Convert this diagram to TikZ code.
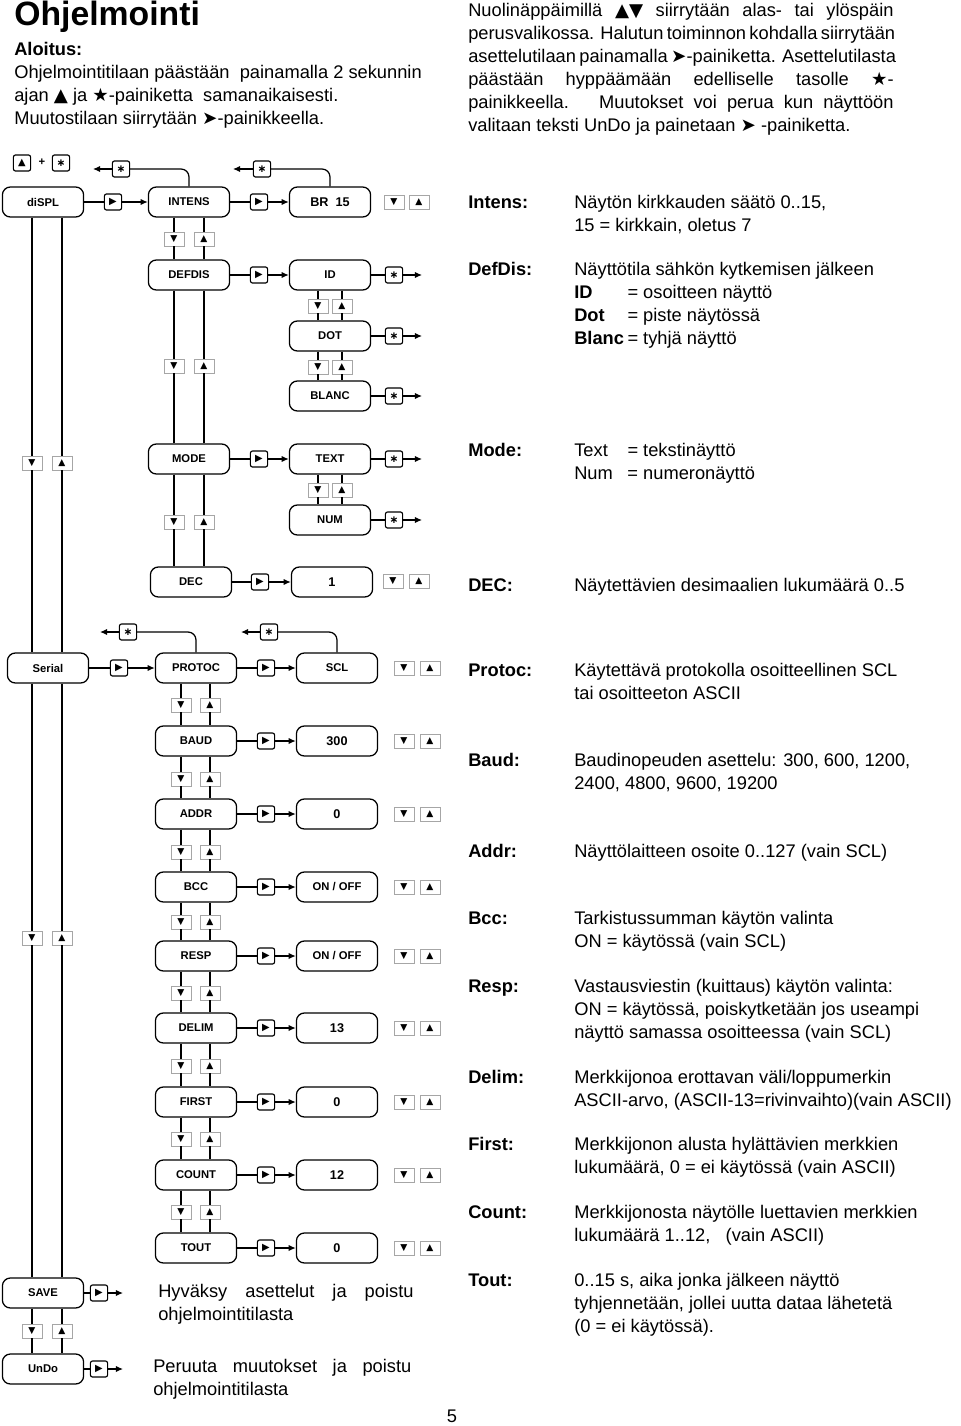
\documentclass[tikz,border=0pt]{standalone}
\usepackage{fontspec}
\setmainfont{Liberation Sans}
\newfontfamily\dejavu{DejaVu Sans}
\usetikzlibrary{arrows.meta}

\tikzset{
  wire/.style={line width=0.9pt},
  go/.style={wire, -{Latex[length=5pt,width=4.5pt]}},
  menu/.style={draw, line width=0.9pt, rounded corners=0.2cm, minimum width=2.03cm, minimum height=0.75cm, inner sep=0pt, font=\bfseries\fontsize{8}{9}\selectfont},
  valbox/.style={menu, font=\bfseries\fontsize{9}{10}\selectfont},
  keybtn/.style={draw, line width=0.8pt, rounded corners=1.5pt, minimum width=0.43cm, minimum height=0.4cm, inner sep=0pt, fill=white, font=\dejavu\fontsize{7}{7}\selectfont},
  keystar/.style={keybtn, font=\dejavu\bfseries\fontsize{7.5}{7.5}\selectfont},
  navbtn/.style={draw=black!35, line width=0.6pt, minimum width=0.5cm, minimum height=0.35cm, inner sep=0pt, fill=white, font=\dejavu\fontsize{6.5}{6.5}\selectfont},
  para/.style={anchor=north west, inner sep=0pt, align=left, font=\fontsize{13}{16.4}\selectfont},
  head/.style={para, font=\bfseries\fontsize{13}{16.4}\selectfont},
}

% ylos/alas-napit kahden valikon valilla
\newcommand{\navlink}[5]{%
  \node[navbtn] (#1-#2-d) at (#3,#5) {▼};
  \node[navbtn] (#1-#2-u) at (#4,#5) {▲};
  \draw[wire] (#1.south -| #1-#2-d) -- (#1-#2-d) -- (#1-#2-d |- #2.north);
  \draw[wire] (#1.south -| #1-#2-u) -- (#1-#2-u) -- (#1-#2-u |- #2.north);
}
\newcommand{\smallval}[1]{{\fontsize{8}{9}\selectfont #1}}
\newcommand{\onoff}{\smallval{ON / OFF}}
\newcommand{\fullline}[1]{\makebox[10.63cm][s]{#1}}

\begin{document}
\begin{tikzpicture}[x=0.025cm, y=-0.025cm]
    \fill[white] (0,0) rectangle (960,1426);
    \useasboundingbox (0,0) rectangle (960,1426);

    % Otsikko ja ohjeet
    \node[anchor=base west, inner sep=0pt, font=\bfseries\fontsize{24}{28}\selectfont] (title) at (14,26) {Ohjelmointi};
    \node[para] (start) at (14,39) {\strut\textbf{Aloitus:}\\
        Ohjelmointitilaan päästään\ \ painamalla 2 sekunnin\\
        ajan {\dejavu ▲} ja {\dejavu ★}-painiketta\ \ samanaikaisesti.\\
        Muutostilaan siirrytään {\dejavu ➤}-painikkeella.};
    \node[para] (intro) at (468,0) {\strut
        \fullline{Nuolinäppäimillä {\dejavu ▲▼} siirrytään alas- tai ylöspäin}\\
        \fullline{perusvalikossa. Halutun toiminnon kohdalla siirrytään}\\
        \fullline{asettelutilaan painamalla {\dejavu ➤}-painiketta. Asettelutilasta}\\
        \fullline{päästään hyppäämään edelliselle tasolle {\dejavu ★}-}\\
        \fullline{painikkeella.\ \ \ Muutokset voi perua kun näyttöön}\\
        valitaan teksti UnDo ja painetaan {\dejavu ➤} -painiketta.};

    % Aloitusnapit
    \node[keybtn] (startUp) at (22,163) {▲};
    \node[font=\bfseries\fontsize{8}{9}\selectfont, inner sep=0pt] (plus) at (42,162) {+};
    \node[keystar] (startStar) at (61,163) {∗};

    % Nayttovalikko
    \node[menu] (displ) at (43,202) {diSPL};
    \node[keybtn] (displ-R) at (113,202) {▶};
    \node[menu] (intens) at (189,202) {INTENS};
    \node[keybtn] (intens-R) at (259,202) {▶};
    \node[valbox] (br) at (330,202) {BR\ \ 15};
    \node[navbtn] (br-d) at (394,202) {▼};
    \node[navbtn] (br-u) at (419,202) {▲};
    \draw[wire] (displ) -- (displ-R);
    \draw[go] (displ-R) -- (intens);
    \draw[wire] (intens) -- (intens-R);
    \draw[go] (intens-R) -- (br);

    \node[keystar] (intens-S) at (121,169) {∗};
    \coordinate (intens-E) at (93,169);
    \draw[wire, rounded corners=0.2cm] (intens.north) |- (intens-S);
    \draw[go] (intens-S) -- (intens-E);
    \node[keystar] (br-S) at (262,169) {∗};
    \coordinate (br-E) at (233,169);
    \draw[wire, rounded corners=0.2cm] (br.north) |- (br-S);
    \draw[go] (br-S) -- (br-E);

    \node[menu] (defdis) at (189,275) {DEFDIS};
    \node[keybtn] (defdis-R) at (259,275) {▶};
    \node[menu] (id) at (330,275) {ID};
    \node[menu] (dot) at (330,336) {DOT};
    \node[menu] (blanc) at (330,396) {BLANC};
    \draw[wire] (defdis) -- (defdis-R);
    \draw[go] (defdis-R) -- (id);

    \node[menu] (mode) at (189,459) {MODE};
    \node[keybtn] (mode-R) at (259,459) {▶};
    \node[menu] (modeText) at (330,459) {TEXT};
    \node[menu] (modeNum) at (330,520) {NUM};
    \draw[wire] (mode) -- (mode-R);
    \draw[go] (mode-R) -- (modeText);

    % valinta ja poistuminen
    \foreach \n/\y in {id/275, dot/336, blanc/396, modeText/459, modeNum/520}{
        \node[keystar] (\n-S) at (394,\y) {∗};
        \coordinate (\n-E) at (422,\y);
        \draw[wire] (\n) -- (\n-S);
        \draw[go] (\n-S) -- (\n-E);
    }

    \node[menu] (dec) at (191,582) {DEC};
    \node[keybtn] (dec-R) at (260,582) {▶};
    \node[valbox] (decVal) at (332,582) {1};
    \node[navbtn] (dec-d) at (393,581) {▼};
    \node[navbtn] (dec-u) at (419,581) {▲};
    \draw[wire] (dec) -- (dec-R);
    \draw[go] (dec-R) -- (decVal);

    \navlink{intens}{defdis}{174}{204}{239}
    \navlink{defdis}{mode}{174}{204}{366}
    \navlink{mode}{dec}{174}{204}{522}
    \navlink{id}{dot}{318}{342}{306}
    \navlink{dot}{blanc}{318}{342}{367}
    \navlink{modeText}{modeNum}{318}{342}{490}

    % Sarjaliikennevalikko
    \node[menu] (serial) at (48,668) {Serial};
    \node[keybtn] (serial-R) at (119,668) {▶};
    \foreach \i/\lbl/\val/\y in {1/PROTOC/\smallval{SCL}/668, 2/BAUD/300/741, 3/ADDR/0/814, 4/BCC/\onoff/887, 5/RESP/\onoff/956, 6/DELIM/13/1028, 7/FIRST/0/1102, 8/COUNT/12/1175, 9/TOUT/0/1248}{
        \node[menu] (s\i) at (196,\y) {\lbl};
        \node[keybtn] (s\i-R) at (266,\y) {▶};
        \node[valbox] (s\i-v) at (337,\y) {\val};
        \node[navbtn] (s\i-d) at (404,\y) {▼};
        \node[navbtn] (s\i-u) at (430,\y) {▲};
        \draw[wire] (s\i) -- (s\i-R);
        \draw[go] (s\i-R) -- (s\i-v);
    }
    \draw[wire] (serial) -- (serial-R);
    \draw[go] (serial-R) -- (s1);
    \foreach \i/\j/\y in {1/2/705, 2/3/779, 3/4/852, 4/5/922, 5/6/993, 6/7/1066, 7/8/1139, 8/9/1212}{
        \navlink{s\i}{s\j}{181}{210}{\y}
    }

    \node[keystar] (s1-S) at (128,632) {∗};
    \coordinate (s1-E) at (100,632);
    \draw[wire, rounded corners=0.2cm] (s1.north) |- (s1-S);
    \draw[go] (s1-S) -- (s1-E);
    \node[keystar] (s1v-S) at (269,632) {∗};
    \coordinate (s1v-E) at (241,632);
    \draw[wire, rounded corners=0.2cm] (s1-v.north) |- (s1v-S);
    \draw[go] (s1v-S) -- (s1v-E);

    % Tallennus ja peruutus
    \node[menu] (save) at (43,1293) {SAVE};
    \node[keybtn] (save-R) at (99,1293) {▶};
    \coordinate (save-E) at (123,1293);
    \draw[wire] (save) -- (save-R);
    \draw[go] (save-R) -- (save-E);
    \node[para] (saveTxt) at (158,1281) {\strut\makebox[6.38cm][s]{Hyväksy asettelut ja poistu}\\ohjelmointitilasta};

    \node[menu] (undo) at (43,1369) {UnDo};
    \node[keybtn] (undo-R) at (99,1369) {▶};
    \coordinate (undo-E) at (123,1369);
    \draw[wire] (undo) -- (undo-R);
    \draw[go] (undo-R) -- (undo-E);
    \node[para] (undoTxt) at (153,1356) {\strut\makebox[6.45cm][s]{Peruuta muutokset ja poistu}\\ohjelmointitilasta};

    \navlink{displ}{serial}{32}{62}{463}
    \navlink{serial}{save}{32}{62}{938}
    \navlink{save}{undo}{32}{62}{1331}

    % Selitykset
    \node[head] (hIntens) at (468,192) {\strut Intens:};
    \node[para] (tIntens) at (574,192) {\strut Näytön kirkkauden säätö 0..15,\\15 = kirkkain, oletus 7};
    \node[head] (hDefdis) at (468,259) {\strut DefDis:};
    \node[para] (tDefdis) at (574,259) {\strut Näyttötila sähkön kytkemisen jälkeen\\
        \makebox[1.33cm][l]{\textbf{ID}}= osoitteen näyttö\\
        \makebox[1.33cm][l]{\textbf{Dot}}= piste näytössä\\
        \makebox[1.33cm][l]{\textbf{Blanc}}= tyhjä näyttö};
    \node[head] (hMode) at (468,440) {\strut Mode:};
    \node[para] (tMode) at (574,440) {\strut\makebox[1.33cm][l]{Text}= tekstinäyttö\\\makebox[1.33cm][l]{Num}= numeronäyttö};
    \node[head] (hDec) at (468,575) {\strut DEC:};
    \node[para] (tDec) at (574,575) {\strut Näytettävien desimaalien lukumäärä 0..5};
    \node[head] (hProtoc) at (468,660) {\strut Protoc:};
    \node[para] (tProtoc) at (574,660) {\strut Käytettävä protokolla osoitteellinen SCL\\tai osoitteeton ASCII};
    \node[head] (hBaud) at (468,750) {\strut Baud:};
    \node[para] (tBaud) at (574,750) {\strut Baudinopeuden asettelu: 300, 600, 1200,\\2400, 4800, 9600, 19200};
    \node[head] (hAddr) at (468,841) {\strut Addr:};
    \node[para] (tAddr) at (574,841) {\strut Näyttölaitteen osoite 0..127 (vain SCL)};
    \node[head] (hBcc) at (468,908) {\strut Bcc:};
    \node[para] (tBcc) at (574,908) {\strut Tarkistussumman käytön valinta\\ON = käytössä (vain SCL)};
    \node[head] (hResp) at (468,976) {\strut Resp:};
    \node[para] (tResp) at (574,976) {\strut Vastausviestin (kuittaus) käytön valinta:\\ON = käytössä, poiskytketään jos useampi\\näyttö samassa osoitteessa (vain SCL)};
    \node[head] (hDelim) at (468,1067) {\strut Delim:};
    \node[para] (tDelim) at (574,1067) {\strut Merkkijonoa erottavan väli/loppumerkin\\ASCII-arvo, (ASCII-13=rivinvaihto)(vain ASCII)};
    \node[head] (hFirst) at (468,1134) {\strut First:};
    \node[para] (tFirst) at (574,1134) {\strut Merkkijonon alusta hylättävien merkkien\\lukumäärä, 0 = ei käytössä (vain ASCII)};
    \node[head] (hCount) at (468,1202) {\strut Count:};
    \node[para] (tCount) at (574,1202) {\strut Merkkijonosta näytölle luettavien merkkien\\lukumäärä 1..12,\ \ \ (vain ASCII)};
    \node[head] (hTout) at (468,1270) {\strut Tout:};
    \node[para] (tTout) at (574,1270) {\strut 0..15 s, aika jonka jälkeen näyttö\\tyhjennetään, jollei uutta dataa lähetetä\\(0 = ei käytössä).};

    \node[font=\fontsize{13}{16}\selectfont, inner sep=0pt] (page) at (452,1416) {5};
\end{tikzpicture}
\end{document}
